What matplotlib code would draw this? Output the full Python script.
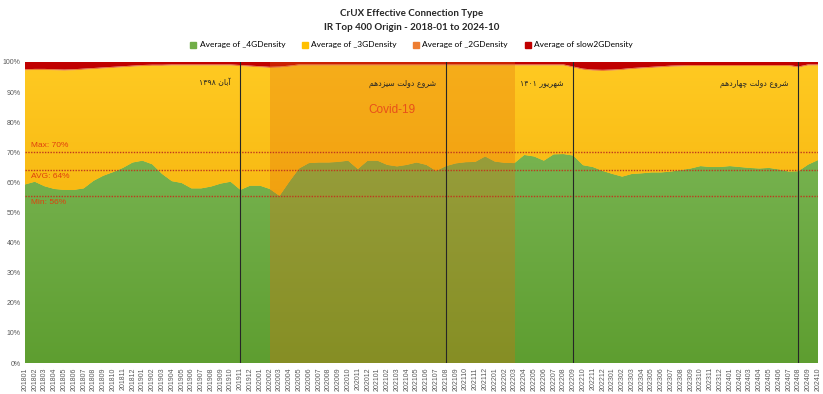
import numpy as np
import matplotlib
matplotlib.use("Agg")
from matplotlib import pyplot as plt
from matplotlib.patches import Patch
from matplotlib.colors import LinearSegmentedColormap

# month categories 201801 .. 202410
months = [f"{y}{m:02d}" for y in range(2018, 2025) for m in range(1, 13)][:82]

density_4g = [59.3, 60.2, 58.7, 57.8, 57.5, 57.5, 58.0, 60.5, 62.2, 63.4, 64.8, 66.6,
              67.2, 66.0, 62.8, 60.4, 59.8, 58.0, 58.0, 58.6, 59.6, 60.2, 57.5, 58.9,
              58.9, 57.8, 55.5, 60.2, 64.6, 66.4, 66.6, 66.6, 66.8, 67.2, 64.4, 67.2,
              67.2, 65.8, 65.3, 65.8, 66.6, 65.8, 63.8, 65.4, 66.3, 66.7, 66.8, 68.6,
              66.9, 66.5, 66.4, 69.1, 68.6, 67.2, 69.3, 69.4, 68.9, 65.7, 65.1, 63.8,
              62.8, 61.9, 62.8, 63.0, 63.3, 63.3, 63.6, 64.1, 64.6, 65.4, 65.1, 65.1,
              65.4, 65.1, 64.8, 64.6, 64.8, 64.3, 63.6, 63.7, 65.9, 67.4]
density_3g = [37.9, 37.1, 38.6, 39.4, 39.6, 39.7, 39.4, 37.1, 35.6, 34.6, 33.4, 31.8,
              31.4, 32.7, 35.9, 38.4, 39.0, 40.8, 40.8, 40.2, 39.2, 38.6, 41.1, 39.5,
              39.3, 40.2, 42.6, 38.2, 34.2, 32.4, 32.2, 32.2, 32.0, 31.6, 34.4, 31.6,
              31.6, 33.0, 33.5, 33.0, 32.2, 33.0, 35.0, 33.4, 32.5, 32.1, 32.0, 30.2,
              31.9, 32.3, 32.4, 29.7, 30.2, 31.6, 29.5, 29.4, 29.2, 31.7, 32.0, 33.2,
              34.3, 35.4, 34.8, 34.8, 34.7, 34.9, 34.8, 34.4, 34.0, 33.2, 33.5, 33.5,
              33.2, 33.5, 33.8, 34.0, 33.8, 34.3, 35.0, 34.4, 32.9, 31.4]
density_2g = [0.4, 0.4, 0.4, 0.4, 0.4, 0.4, 0.4, 0.4, 0.4, 0.4, 0.4, 0.4,
              0.4, 0.4, 0.4, 0.4, 0.4, 0.4, 0.4, 0.4, 0.4, 0.4, 0.4, 0.4,
              0.4, 0.4, 0.4, 0.4, 0.4, 0.4, 0.4, 0.4, 0.4, 0.4, 0.4, 0.4,
              0.4, 0.4, 0.4, 0.4, 0.4, 0.4, 0.4, 0.4, 0.4, 0.4, 0.4, 0.4,
              0.4, 0.4, 0.4, 0.4, 0.4, 0.4, 0.4, 0.4, 0.4, 0.4, 0.4, 0.4,
              0.4, 0.4, 0.4, 0.4, 0.4, 0.4, 0.4, 0.4, 0.4, 0.4, 0.4, 0.4,
              0.4, 0.4, 0.4, 0.4, 0.4, 0.4, 0.4, 0.4, 0.4, 0.4]
density_slow2g = [2.4, 2.3, 2.3, 2.4, 2.5, 2.4, 2.2, 2.0, 1.8, 1.6, 1.4, 1.2,
                  1.0, 0.9, 0.9, 0.8, 0.8, 0.8, 0.8, 0.8, 0.8, 0.8, 1.0, 1.2,
                  1.4, 1.6, 1.5, 1.2, 0.8, 0.8, 0.8, 0.8, 0.8, 0.8, 0.8, 0.8,
                  0.8, 0.8, 0.8, 0.8, 0.8, 0.8, 0.8, 0.8, 0.8, 0.8, 0.8, 0.8,
                  0.8, 0.8, 0.8, 0.8, 0.8, 0.8, 0.8, 0.8, 1.5, 2.2, 2.5, 2.6,
                  2.5, 2.3, 2.0, 1.8, 1.6, 1.4, 1.2, 1.1, 1.0, 1.0, 1.0, 1.0,
                  1.0, 1.0, 1.0, 1.0, 1.0, 1.0, 1.0, 1.5, 0.8, 0.8]

series_names = ["Average of _4GDensity", "Average of _3GDensity",
                "Average of _2GDensity", "Average of slow2GDensity"]
series_colors = ["#70AD47", "#FFC000", "#ED7D31", "#C00000"]

ref_lines = [("Max: 70%", 70), ("AVG: 64%", 64), ("Min: 56%", 55.5)]

events = [("201911", "آبان ۱۳۹۸"), ("202108", "شروع دولت سیزدهم"),
          ("202209", "شهریور ۱۴۰۱"), ("202408", "شروع دولت چهاردهم")]
covid_span = ("202002", "202203")

# --- minimal Persian shaping (matplotlib has no complex text layout) ---
FORMS = {
    'ا': ('\uFE8D', '\uFE8E', None, None),
    'آ': ('\uFE81', '\uFE82', None, None),
    'د': ('\uFEA9', '\uFEAA', None, None),
    'ر': ('\uFEAD', '\uFEAE', None, None),
    'ز': ('\uFEAF', '\uFEB0', None, None),
    'و': ('\uFEED', '\uFEEE', None, None),
    'ب': ('\uFE8F', '\uFE90', '\uFE91', '\uFE92'),
    'ت': ('\uFE95', '\uFE96', '\uFE97', '\uFE98'),
    'س': ('\uFEB1', '\uFEB2', '\uFEB3', '\uFEB4'),
    'ش': ('\uFEB5', '\uFEB6', '\uFEB7', '\uFEB8'),
    'ع': ('\uFEC9', '\uFECA', '\uFECB', '\uFECC'),
    'ل': ('\uFEDD', '\uFEDE', '\uFEDF', '\uFEE0'),
    'م': ('\uFEE1', '\uFEE2', '\uFEE3', '\uFEE4'),
    'ن': ('\uFEE5', '\uFEE6', '\uFEE7', '\uFEE8'),
    'ه': ('\uFEE9', '\uFEEA', '\uFEEB', '\uFEEC'),
    'ی': ('\uFBFC', '\uFBFD', '\uFBFE', '\uFBFF'),
    'چ': ('\uFB7A', '\uFB7B', '\uFB7C', '\uFB7D'),
}


def shape(word):
    out = []
    for k, ch in enumerate(word):
        f = FORMS.get(ch)
        if f is None:
            out.append(ch)
            continue
        prev = word[k - 1] if k > 0 else None
        nxt = word[k + 1] if k < len(word) - 1 else None
        jp = prev in FORMS and FORMS[prev][2] is not None
        jn = nxt in FORMS and f[2] is not None
        if jp and jn:
            out.append(f[3])
        elif jp:
            out.append(f[1])
        elif jn:
            out.append(f[2])
        else:
            out.append(f[0])
    return "".join(out)


def rtl(text):
    parts = [t if t[0].isdigit() else shape(t)[::-1] for t in text.split(" ")]
    return " ".join(parts[::-1])


fig = plt.figure(figsize=(8.23, 3.94), dpi=100)
ax = fig.add_axes([25 / 823, 31 / 394, 793 / 823, 301 / 394])
x = np.arange(len(months))
n = len(months) - 1

polys = ax.stackplot(x, density_4g, density_3g, density_2g, density_slow2g,
                     colors=series_colors, linewidth=0, zorder=1)


def grad_fill(poly, c_bot, c_top):
    cmap = LinearSegmentedColormap.from_list("g", [c_bot, c_top])
    im = ax.imshow(np.linspace(0, 1, 256).reshape(-1, 1), cmap=cmap, aspect="auto",
                   origin="lower", extent=[0, n, 0, 100], zorder=1.5)
    im.set_clip_path(poly.get_paths()[0], transform=ax.transData)


grad_fill(polys[0], "#5E9E30", "#82BC5E")
grad_fill(polys[1], "#EFA400", "#FFCA22")

# covid band
c0, c1 = months.index(covid_span[0]), months.index(covid_span[1])
ax.axvspan(c0, c1, color="#E36C0A", alpha=0.3, lw=0, zorder=2)
ax.text((c0 + c1) / 2, 84, "Covid-19", color="#E8501A", fontsize=8.5,
        ha="center", va="center", family="Liberation Sans", zorder=5)

# reference lines
for i, (lab, val) in enumerate(ref_lines):
    ax.axhline(val, color="#C0381E", lw=1, ls=(0, (1, 1)), zorder=3)
    off = 2.2 if i == 0 else -2.2
    ax.text(0.6, val + off, lab, color="#E0400E", fontsize=6, family="Liberation Sans",
            va="center", ha="left", zorder=5)

# event lines
for mon, lab in events:
    k = months.index(mon)
    ax.axvline(k, color="#262626", lw=0.8, zorder=4)
    ax.text(k - 1.0, 93, rtl(lab), fontsize=5.6, color="#262626", ha="right", va="center",
            family="DejaVu Sans", zorder=5)

ax.set_xlim(0, n)
ax.set_ylim(0, 100)
ax.set_yticks(range(0, 101, 10))
ax.set_yticklabels([f"{v}%" for v in range(0, 101, 10)])
ax.set_xticks(x)
ax.set_xticklabels(months, rotation=90)
ax.tick_params(axis="both", length=0, labelsize=5, labelcolor="#595959", pad=3)
for lbl in ax.get_xticklabels() + ax.get_yticklabels():
    lbl.set_family("Liberation Sans")
for s in ax.spines.values():
    s.set_visible(False)

fig.text(0.5, 1 - 13 / 394, "CrUX Effective Connection Type", ha="center", va="center",
         fontsize=7, fontweight="bold", family="Lato", color="#262626")
fig.text(0.5, 1 - 28 / 394, "IR Top 400 Origin - 2018-01 to 2024-10", ha="center",
         va="center", fontsize=7, fontweight="bold", family="Lato", color="#262626")

handles = [Patch(color=c) for c in series_colors]
fig.legend(handles, series_names, loc="center", bbox_to_anchor=(0.5, 1 - 45 / 394),
           ncol=4, frameon=False, handlelength=0.7, handleheight=0.7,
           handletextpad=0.4, columnspacing=2.0, prop={"family": "Lato", "size": 6})

fig.savefig("out.png", dpi=100)
